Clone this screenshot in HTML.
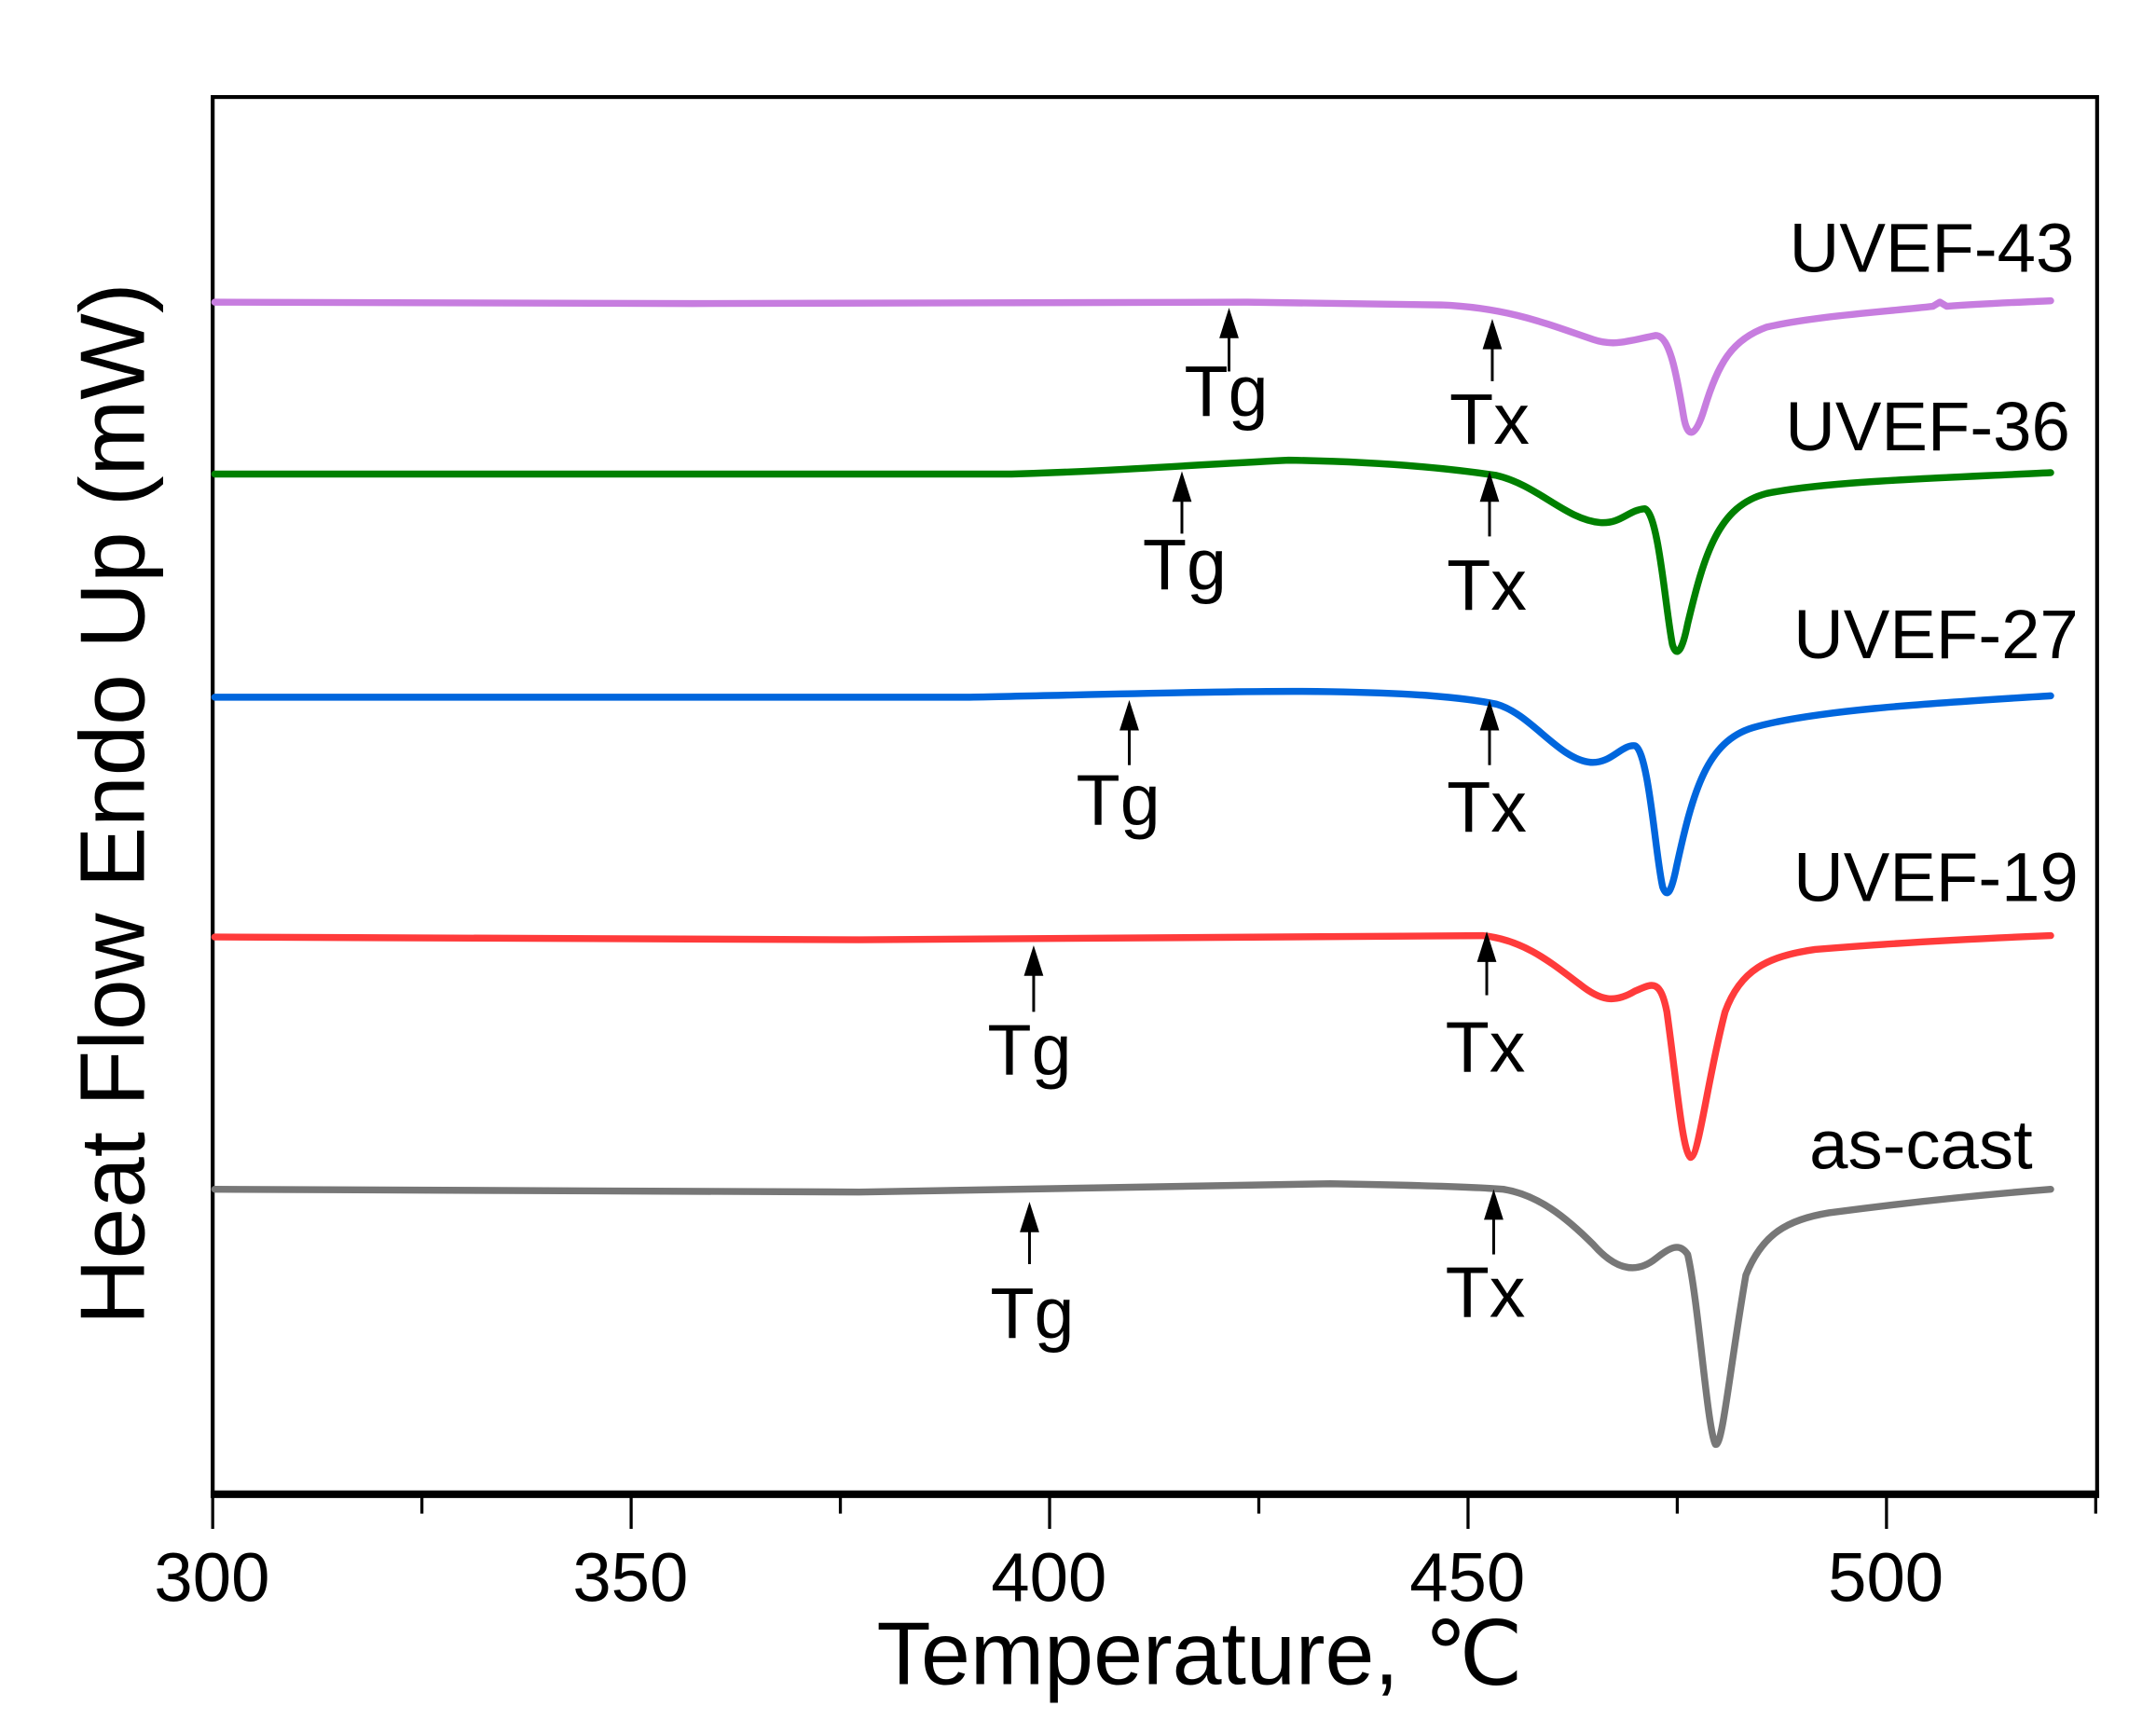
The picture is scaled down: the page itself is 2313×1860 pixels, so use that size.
<!DOCTYPE html>
<html><head><meta charset="utf-8"><style>
html,body{margin:0;padding:0;background:#fff;}
svg{display:block;}
text{font-family:"Liberation Sans",Arial,sans-serif;fill:#000;}
</style></head><body>
<svg width="2313" height="1860" viewBox="0 0 1556 1251" preserveAspectRatio="none" xmlns="http://www.w3.org/2000/svg">
<rect x="153.5" y="70" width="1360" height="1008" fill="none" stroke="#000" stroke-width="2.8"/>
<line x1="152" y1="1078" x2="1515" y2="1078" stroke="#000" stroke-width="5.5"/>
<g stroke="#000" stroke-width="2.2">
<line x1="153.5" y1="1078" x2="153.5" y2="1103"/>
<line x1="304.5" y1="1078" x2="304.5" y2="1092"/>
<line x1="455.5" y1="1078" x2="455.5" y2="1103"/>
<line x1="606.5" y1="1078" x2="606.5" y2="1092"/>
<line x1="757.5" y1="1078" x2="757.5" y2="1103"/>
<line x1="908.5" y1="1078" x2="908.5" y2="1092"/>
<line x1="1059.5" y1="1078" x2="1059.5" y2="1103"/>
<line x1="1210.5" y1="1078" x2="1210.5" y2="1092"/>
<line x1="1361.5" y1="1078" x2="1361.5" y2="1103"/>
<line x1="1512.5" y1="1078" x2="1512.5" y2="1092"/>
</g>
<g font-size="50" text-anchor="middle">
<text x="153" y="1155">300</text><text x="455" y="1155">350</text><text x="757" y="1155">400</text>
<text x="1059" y="1155">450</text><text x="1361" y="1155">500</text>
</g>
<text x="866" y="1215" font-size="64" text-anchor="middle">Temperature, ℃</text>
<text transform="translate(104,580) rotate(-90)" font-size="66" text-anchor="middle">Heat Flow Endo Up (mW)</text>
<g fill="none" stroke-width="5" stroke-linejoin="round" stroke-linecap="round">
<path stroke="#c77ddf" d="M155,218 L500,219 L900,218 L1040,220 C1090,222 1120,235 1150,245 C1165,250 1175,246 1195,242 C1205,242 1210,270 1215,300 C1218,318 1224,315 1230,295 C1240,262 1250,245 1275,236 C1310,228 1360,225 1395,221 L1400,218 L1405,221 C1430,219 1460,218 1480,217"/>
<path stroke="#008000" d="M155,342 L730,342 C800,340 850,336 930,332 C990,333 1040,337 1080,343 C1110,350 1130,375 1155,377 C1170,378 1175,368 1187,367 C1197,370 1202,440 1207,465 C1210,475 1214,470 1218,450 C1230,400 1240,365 1275,356 C1320,347 1400,345 1480,341"/>
<path stroke="#0066dd" d="M155,503 L700,503 C800,501 900,498 960,499 C1020,500 1055,503 1080,508 C1105,515 1125,548 1148,550 C1163,551 1170,537 1180,538 C1190,542 1195,620 1200,640 C1203,648 1206,645 1210,625 C1222,570 1232,535 1265,525 C1310,512 1400,507 1480,502"/>
<path stroke="#ff3b3b" d="M155,676 L620,678 L1070,675 C1100,678 1120,695 1140,710 C1155,722 1165,724 1180,715 C1192,710 1198,705 1203,730 C1210,780 1214,830 1220,835 C1226,835 1232,780 1245,730 C1256,700 1275,690 1310,685 C1370,680 1430,677 1480,675"/>
<path stroke="#777777" d="M155,858 L620,860 C800,857 900,854 960,854 C1020,855 1060,856 1085,858 C1110,862 1130,878 1150,898 C1165,915 1180,920 1195,908 C1205,900 1212,896 1218,905 C1226,940 1232,1030 1238,1042 C1243,1045 1248,990 1260,920 C1272,890 1290,880 1320,875 C1380,867 1430,862 1480,858"/>
</g>
<g font-size="50">
<text x="1497" y="196" text-anchor="end">UVEF-43</text>
<text x="1494" y="325" text-anchor="end">UVEF-36</text>
<text x="1500" y="475" text-anchor="end">UVEF-27</text>
<text x="1500" y="650" text-anchor="end">UVEF-19</text>
<text x="1467" y="843" text-anchor="end">as-cast</text>
</g>
<g stroke="#000" stroke-width="2">
<line x1="887" y1="240" x2="887" y2="268"/><line x1="1077" y1="248" x2="1077" y2="275"/>
<line x1="853" y1="358" x2="853" y2="385"/><line x1="1075" y1="358" x2="1075" y2="387"/>
<line x1="815" y1="523" x2="815" y2="552"/><line x1="1075" y1="523" x2="1075" y2="552"/>
<line x1="746" y1="700" x2="746" y2="730"/><line x1="1073" y1="692" x2="1073" y2="718"/>
<line x1="743" y1="885" x2="743" y2="912"/><line x1="1078" y1="878" x2="1078" y2="905"/>
</g>
<g fill="#000">
<path d="M887,222 l-7,22 h14z"/><path d="M1077,230 l-7,22 h14z"/>
<path d="M853,340 l-7,22 h14z"/><path d="M1075,340 l-7,22 h14z"/>
<path d="M815,505 l-7,22 h14z"/><path d="M1075,505 l-7,22 h14z"/>
<path d="M746,682 l-7,22 h14z"/><path d="M1073,672 l-7,22 h14z"/>
<path d="M743,867 l-7,22 h14z"/><path d="M1078,858 l-7,22 h14z"/>
</g>
<g font-size="52" text-anchor="middle">
<text x="885" y="300">Tg</text><text x="1075" y="320">Tx</text>
<text x="855" y="425">Tg</text><text x="1073" y="440">Tx</text>
<text x="807" y="595">Tg</text><text x="1073" y="600">Tx</text>
<text x="743" y="775">Tg</text><text x="1072" y="773">Tx</text>
<text x="745" y="965">Tg</text><text x="1072" y="950">Tx</text>
</g>
</svg>
</body></html>
